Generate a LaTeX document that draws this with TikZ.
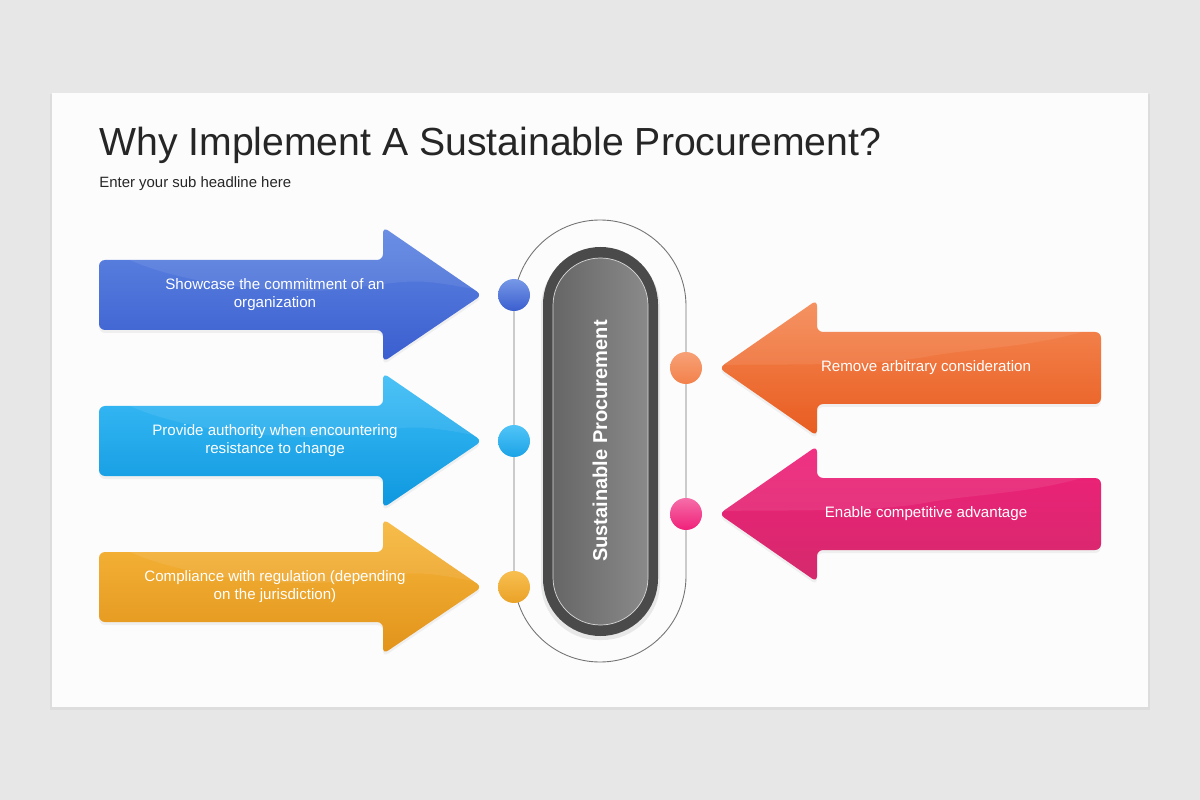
\documentclass[tikz,border=0pt]{standalone}
\usepackage{fontspec}
\setmainfont{Liberation Sans}
\definecolor{pagegray}{HTML}{E8E7E8}
\definecolor{slidewhite}{HTML}{FCFCFC}
\definecolor{titlegray}{HTML}{262626}
\definecolor{blueA}{HTML}{3A5ECF}
\definecolor{blueB}{HTML}{5F86E2}
\definecolor{cyanA}{HTML}{0E97DF}
\definecolor{cyanB}{HTML}{3DBEF7}
\definecolor{goldA}{HTML}{E2931A}
\definecolor{goldB}{HTML}{F7B83C}
\definecolor{orangeA}{HTML}{E85C20}
\definecolor{orangeB}{HTML}{F58A55}
\definecolor{pinkA}{HTML}{D42A6C}
\definecolor{pinkB}{HTML}{F0207A}
\definecolor{coreA}{HTML}{4A4A4A}
\definecolor{coreB}{HTML}{8A8A8A}
\definecolor{coreC}{HTML}{666666}
% arrow outlines, #1 = centre line
\newcommand{\inarrow}[1]{(99,#1-35) -- (383,#1-35) -- (383,#1-68) -- (482,#1) -- (383,#1+67) -- (383,#1+35) -- (99,#1+35) -- cycle}
\newcommand{\outarrow}[1]{(1101,#1-36) -- (817,#1-36) -- (817,#1-68) -- (719,#1) -- (817,#1+68) -- (817,#1+36) -- (1101,#1+36) -- cycle}
\tikzset{
  arrowbody/.style={rounded corners=0.12cm},
  arrowtext/.style={text=white, align=center, font=\fontsize{8.6}{10.2}\selectfont},
  dot/.style={circle, minimum size=0.64cm, inner sep=0pt},
  ring/.style={draw=black!55, line width=0.5pt}
}
\begin{document}
\begin{tikzpicture}[x=0.02cm, y=-0.02cm]
  \useasboundingbox (0,0) rectangle (1200,800);
  \fill[pagegray] (0,0) rectangle (1200,800);
  \fill[black, opacity=0.04] (50,94) rectangle (1150,710);
  \fill[slidewhite] (52,93) rectangle (1148,707);

  % title
  \node[anchor=base west, inner sep=0pt, text=titlegray, font=\fontsize{22.3}{26}\selectfont] (title) at (99,156) {Why Implement A Sustainable Procurement?};
  \node[anchor=base west, inner sep=0pt, text=titlegray, font=\fontsize{8.5}{10}\selectfont] (subtitle) at (99,188) {Enter your sub headline here};

  % ring round the core
  \draw[ring, rounded corners=1.72cm] (514,220) rectangle (686,662);

  % core capsule
  \fill[black, opacity=0.08] (541,250) [rounded corners=1.15cm] rectangle (660,640);
  \fill[coreA, rounded corners=1.15cm] (543,247) rectangle (658,636);
  \shade[left color=coreC, right color=coreB, rounded corners=0.95cm, draw=white!70!gray, line width=0.4pt] (553,258) rectangle (648,625);
  \node[rotate=90, text=white, font=\bfseries\fontsize{11.4}{13}\selectfont] (core) at (600,441) {Sustainable Procurement};

  % arrows pointing in
  \foreach \c/\ca/\cb/\txt in {295/blueA/blueB/{Showcase the commitment of an\\organization},
      441/cyanA/cyanB/{Provide authority when encountering\\resistance to change},
      587/goldA/goldB/{Compliance with regulation (depending\\on the jurisdiction)}} {
    \fill[black, opacity=0.05, arrowbody] [yshift=-0.06cm] \inarrow{\c};
    \shade[arrowbody, top color=\cb, bottom color=\ca] \inarrow{\c};
    \begin{scope}
      \clip[arrowbody] \inarrow{\c};
      \fill[white, opacity=0.08] (130,\c-80) -- (130,\c-35) .. controls (190,\c-8) and (300,\c+2) .. (360,\c-8) .. controls (420,\c-16) .. (490,\c-3) -- (490,\c-80) -- cycle;
    \end{scope}
    \node[arrowtext] at (275,\c) {\txt};
  }

  % arrows pointing out
  \foreach \c/\ca/\cb/\txt in {368/orangeA/orangeB/{Remove arbitrary consideration},
      514/pinkA/pinkB/{Enable competitive advantage}} {
    \fill[black, opacity=0.05, arrowbody] [yshift=-0.06cm] \outarrow{\c};
    \shade[arrowbody, top color=\cb, bottom color=\ca] \outarrow{\c};
    \begin{scope}
      \clip[arrowbody] \outarrow{\c};
      \fill[white, opacity=0.08] (710,\c-90) -- (710,\c-3) .. controls (800,\c-4) and (880,\c-2) .. (930,\c-12) .. controls (990,\c-22) and (1040,\c-20) .. (1110,\c-45) -- (1110,\c-90) -- cycle;
    \end{scope}
    \node[arrowtext] at (926,\c) {\txt};
  }

  % dots on the ring
  \node[dot, top color=blueB!85!white, bottom color=blueA] (d1) at (514,295) {};
  \node[dot, top color=cyanB!90!white, bottom color=cyanA!70!cyanB] (d2) at (514,441) {};
  \node[dot, top color=goldB!90!white, bottom color=goldA!60!goldB] (d3) at (514,587) {};
  \node[dot, top color=orangeB!80!white, bottom color=orangeB!80!orangeA] (d4) at (686,368) {};
  \node[dot, top color=pinkB!65!white, bottom color=pinkB] (d5) at (686,514) {};
\end{tikzpicture}
\end{document}
